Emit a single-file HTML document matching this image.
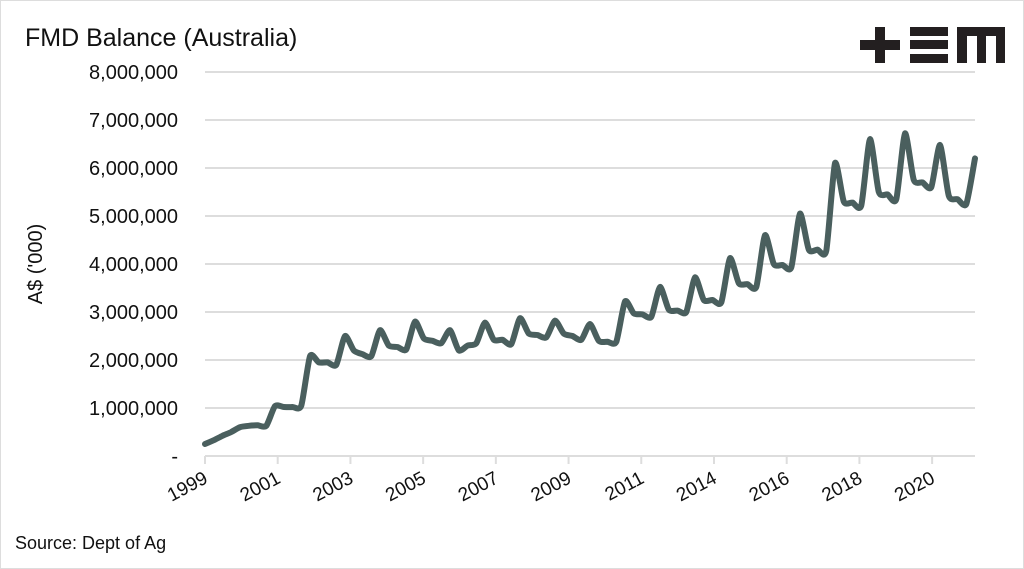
<!DOCTYPE html>
<html><head><meta charset="utf-8"><style>
body{margin:0;background:#fff;}
#wrap{position:relative;width:1024px;height:569px;overflow:hidden;font-family:"Liberation Sans",sans-serif;}
</style></head><body>
<div id="wrap">
<svg id="chart" width="1024" height="569">
<rect x="0.5" y="0.5" width="1023" height="568" fill="#fff" stroke="#ddd"/>
<text x="25" y="46" font-size="25" fill="#111">FMD Balance (Australia)</text>
<text transform="translate(42,264) rotate(-90)" text-anchor="middle" font-size="20" fill="#111">A$ ('000)</text>
<text x="15" y="549" font-size="18" fill="#111">Source: Dept of Ag</text>
<g fill="#231f20">
<rect x="860" y="40" width="40" height="10"/><rect x="875" y="27" width="10" height="36"/>
<rect x="910" y="27" width="38" height="9"/><rect x="910" y="40" width="38" height="9"/><rect x="910" y="54" width="38" height="9"/>
<path d="M957 27 H1005 V63 H996 V36 H986 V63 H977 V36 H967 V63 H957 Z"/>
</g>
<g id="grid"></g><g id="axes"></g><g id="series"></g>
</svg>
</div>
<script>
const values=[0.25,0.33,0.42,0.5,0.6,0.63,0.64,0.63,1.04,1.02,1.02,1.05,2.08,1.95,1.95,1.9,
2.5,2.2,2.12,2.08,2.62,2.3,2.27,2.22,2.8,2.45,2.4,2.35,2.62,2.2,2.3,2.35,
2.78,2.42,2.42,2.33,2.87,2.55,2.52,2.47,2.82,2.55,2.5,2.42,2.75,2.4,2.38,2.38,
3.22,2.97,2.95,2.9,3.52,3.05,3.03,3.0,3.72,3.25,3.25,3.2,4.12,3.6,3.58,3.52,
4.6,4.0,3.98,3.93,5.05,4.3,4.3,4.28,6.1,5.3,5.28,5.22,6.6,5.5,5.45,5.35,
6.72,5.75,5.7,5.6,6.48,5.42,5.35,5.25,6.2];
const xTickLabels=["1999","2001","2003","2005","2007","2009","2011","2014","2016","2018","2020"];
const xTickStep=8.31;
const yTicks=[0,1,2,3,4,5,6,7,8];
const yTickLabels=["-","1,000,000","2,000,000","3,000,000","4,000,000","5,000,000","6,000,000","7,000,000","8,000,000"];
const NS="http://www.w3.org/2000/svg";
const X0=205,X1=975,Y0=456,Y1=72;
const xs=i=>X0+i*(X1-X0)/(values.length-1);
const ys=v=>Y0-v*(Y0-Y1)/8;
function mk(t,a,p){const e=document.createElementNS(NS,t);for(const k in a)e.setAttribute(k,a[k]);p.appendChild(e);return e;}
const grid=document.getElementById('grid'),axes=document.getElementById('axes'),ser=document.getElementById('series');
yTicks.forEach((v,i)=>{
 const l=mk('line',{x1:X0,x2:X1,y1:ys(v),y2:ys(v),stroke:'#ddd','stroke-width':2},grid);
 
 
 const t=mk('text',{x:178,y:ys(v)+7,'text-anchor':'end','font-size':20,fill:'#111'},axes);
 t.textContent=yTickLabels[i];
 
 
});
xTickLabels.forEach((s,i)=>{
 const x=xs(i*xTickStep);
 const l=mk('line',{x1:x,x2:x,y1:Y0,y2:Y0+8,stroke:'#ddd','stroke-width':2},axes);
 
 
 const t=mk('text',{transform:`translate(${x+4},${Y0+26}) rotate(-28)`,'text-anchor':'end','font-size':19,fill:'#111'},axes);
 t.textContent=s;
 
 
});
const pts=values.map((v,i)=>[xs(i),ys(v)]);
let d='M'+pts[0][0].toFixed(1)+' '+pts[0][1].toFixed(1);
const k=0.11;
for(let i=0;i<pts.length-1;i++){
 const p0=pts[Math.max(0,i-1)],p1=pts[i],p2=pts[i+1],p3=pts[Math.min(pts.length-1,i+2)];
 const c1=[p1[0]+(p2[0]-p0[0])*k,p1[1]+(p2[1]-p0[1])*k];
 const c2=[p2[0]-(p3[0]-p1[0])*k,p2[1]-(p3[1]-p1[1])*k];
 d+=`C${c1[0].toFixed(1)} ${c1[1].toFixed(1)} ${c2[0].toFixed(1)} ${c2[1].toFixed(1)} ${p2[0].toFixed(1)} ${p2[1].toFixed(1)}`;
}
const p=mk('path',{d:d,fill:'none',stroke:'#4a5f5e','stroke-width':6,'stroke-linejoin':'round','stroke-linecap':'round'},ser);


</script>
</body></html>
